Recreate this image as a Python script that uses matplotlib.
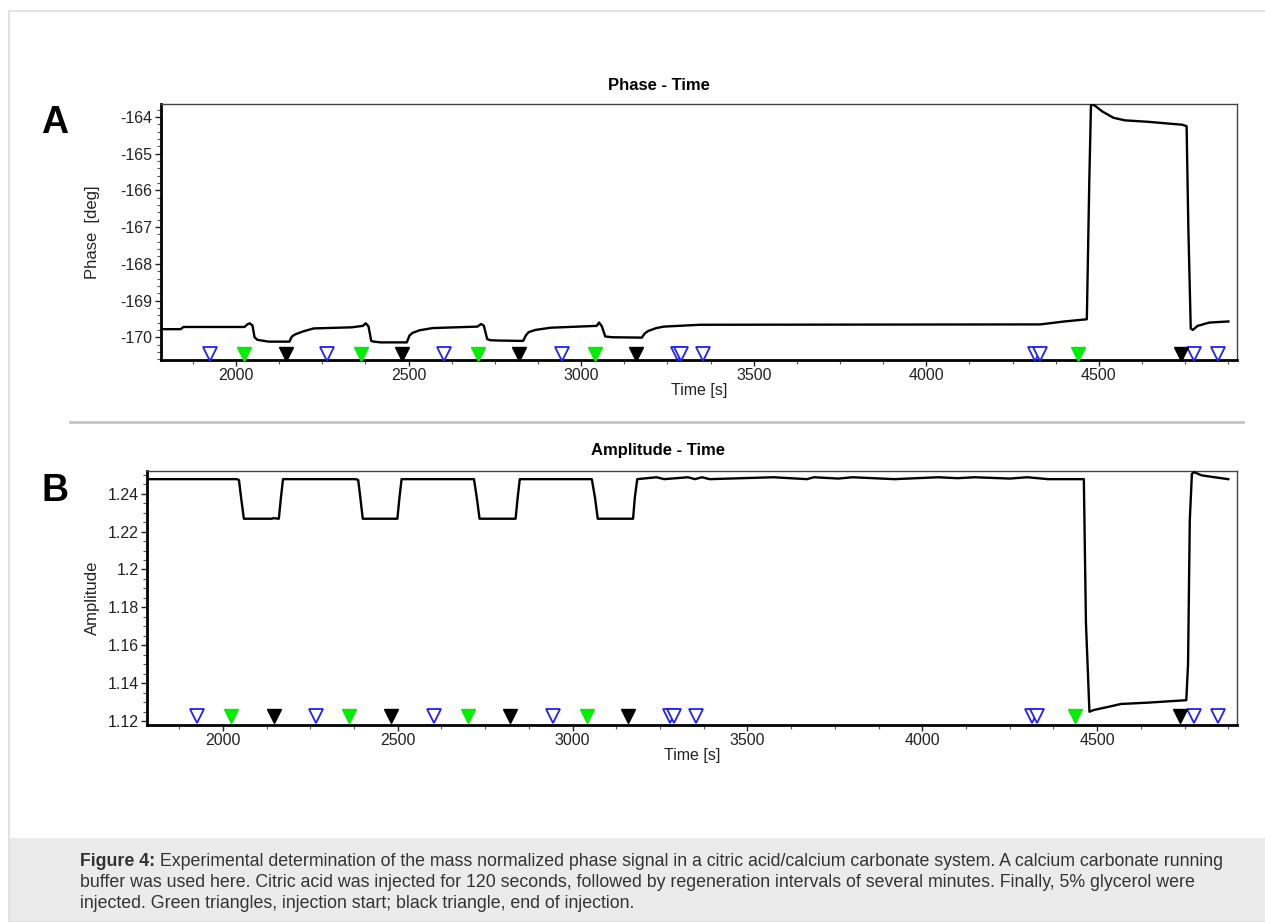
import matplotlib
matplotlib.use('Agg')
import matplotlib.pyplot as plt
from matplotlib.patches import Rectangle
from matplotlib.lines import Line2D
from matplotlib.ticker import MultipleLocator, FuncFormatter

plt.rcParams['font.family'] = ['Liberation Sans', 'DejaVu Sans']
plt.rcParams['axes.unicode_minus'] = False

# phase trace [s, deg]
phase_time = [1783, 1840, 1848, 2025, 2033, 2040, 2048, 2054, 2062, 2095,
              2155, 2162, 2172, 2195, 2225, 2335, 2368, 2376, 2384, 2392,
              2400, 2420, 2495, 2503, 2512, 2532, 2570, 2700, 2710, 2718,
              2728, 2736, 2760, 2832, 2840, 2848, 2868, 2912, 3045, 3052,
              3060, 3070, 3090, 3176, 3184, 3194, 3218, 3240, 3345, 4330,
              4400, 4465, 4472, 4477, 4487, 4510, 4542, 4575, 4642, 4742,
              4754, 4759, 4766, 4772, 4786, 4820, 4875]
phase_deg = [-169.78, -169.78, -169.72, -169.72, -169.65, -169.62, -169.68, -170.00, -170.07, -170.12,
             -170.12, -169.98, -169.92, -169.84, -169.76, -169.73, -169.69, -169.62, -169.70, -170.10,
             -170.12, -170.14, -170.14, -169.95, -169.88, -169.81, -169.75, -169.71, -169.64, -169.68,
             -170.05, -170.08, -170.09, -170.10, -169.95, -169.86, -169.80, -169.74, -169.69, -169.60,
             -169.70, -169.98, -170.00, -170.01, -169.90, -169.83, -169.75, -169.71, -169.66, -169.65,
             -169.57, -169.51, -165.80, -163.66, -163.68, -163.85, -164.02, -164.09, -164.13, -164.21,
             -164.25, -167.00, -169.76, -169.80, -169.69, -169.60, -169.57]

# amplitude trace [s, -]
amp_time = [1783, 2040, 2046, 2052, 2060, 2140, 2145, 2160, 2166, 2172,
            2380, 2387, 2393, 2400, 2499, 2505, 2511, 2718, 2726, 2734,
            2837, 2843, 2849, 3055, 3064, 3072, 3173, 3178, 3185, 3240,
            3262, 3330, 3350, 3370, 3392, 3575, 3670, 3690, 3760, 3800,
            3920, 4046, 4100, 4150, 4250, 4300, 4360, 4462, 4468, 4478,
            4490, 4535, 4568, 4645, 4755, 4760, 4765, 4771, 4777, 4799,
            4832, 4875]
amp_val = [1.2477, 1.2477, 1.2472, 1.2380, 1.2268, 1.2268, 1.2271, 1.2268, 1.2380, 1.2477,
           1.2477, 1.2472, 1.2380, 1.2268, 1.2268, 1.2380, 1.2477, 1.2477, 1.2380, 1.2268,
           1.2268, 1.2380, 1.2477, 1.2477, 1.2380, 1.2268, 1.2268, 1.2380, 1.2477, 1.2487,
           1.2477, 1.2487, 1.2477, 1.2487, 1.2477, 1.2487, 1.2477, 1.2487, 1.2480, 1.2487,
           1.2477, 1.2487, 1.2482, 1.2487, 1.2480, 1.2487, 1.2477, 1.2477, 1.1720, 1.1249,
           1.1258, 1.1276, 1.1290, 1.1297, 1.1310, 1.1500, 1.2260, 1.2505, 1.2514, 1.2497,
           1.2488, 1.2477]

# event markers [s]
marks_blue = [1925, 2265, 2603, 2945, 3280, 3290, 3353, 4314, 4328, 4776, 4846]
marks_green = [2022, 2362, 2702, 3040, 4438]
marks_black = [2145, 2481, 2821, 3158, 4737]

phase_ticks = [-170, -169, -168, -167, -166, -165, -164]
amp_ticks = [1.12, 1.14, 1.16, 1.18, 1.20, 1.22, 1.24]
time_ticks = [2000, 2500, 3000, 3500, 4000, 4500]

caption = [
    ' Experimental determination of the mass normalized phase signal in a citric acid/calcium carbonate system. A calcium carbonate running',
    'buffer was used here. Citric acid was injected for 120 seconds, followed by regeneration intervals of several minutes. Finally, 5% glycerol were',
    'injected. Green triangles, injection start; black triangle, end of injection.',
]

W, H = 1265, 922
fig = plt.figure(figsize=(W / 100, H / 100), dpi=100)


def px_box(left, top, right, bottom):
    return [left / W, 1 - bottom / H, (right - left) / W, (bottom - top) / H]


def style_axes(ax, ylim, yticks, yfmt, yminor):
    ax.set_xlim(1783, 4900)
    ax.set_ylim(*ylim)
    ax.set_xticks(time_ticks)
    ax.xaxis.set_minor_locator(MultipleLocator(125))
    ax.set_yticks(yticks)
    ax.yaxis.set_major_formatter(FuncFormatter(yfmt))
    ax.yaxis.set_minor_locator(MultipleLocator(yminor))
    for side in ('left', 'bottom'):
        ax.spines[side].set_linewidth(2.0)
        ax.spines[side].set_color('black')
    for side in ('top', 'right'):
        ax.spines[side].set_linewidth(1.0)
        ax.spines[side].set_color('#444444')
    ax.tick_params(which='major', length=4, width=1, pad=2, labelsize=11.5,
                   colors='#222222', direction='out')
    ax.tick_params(which='minor', length=3, width=0.8, colors='#555555', direction='out')


def draw_marks(ax, ypos):
    tr = ax.get_xaxis_transform()
    for t in marks_blue:
        ax.plot(t, ypos, marker='v', ms=10, mfc='white', mec='#1f1fff', mew=1.3,
                transform=tr, clip_on=False, zorder=4)
    for t in marks_green:
        ax.plot(t, ypos, marker='v', ms=10, mfc='#00ee00', mec='#00ee00', mew=1,
                transform=tr, clip_on=False, zorder=4)
    for t in marks_black:
        ax.plot(t, ypos, marker='v', ms=10, mfc='black', mec='black', mew=1,
                transform=tr, clip_on=False, zorder=4)


# panel A: phase
ax1 = fig.add_axes(px_box(161, 104, 1237, 360))
ax1.plot(phase_time, phase_deg, color='black', lw=1.7, zorder=3)
style_axes(ax1, (-170.62, -163.645), phase_ticks, lambda v, p: '%g' % v, 0.2)
draw_marks(ax1, 0.025)
ax1.set_xlabel('Time [s]', fontsize=11.5, labelpad=0, color='#222222')
fig.text(659 / W, 1 - 85 / H, 'Phase - Time', ha='center', va='center',
         fontsize=12, fontweight='bold')
fig.text(92 / W, 1 - 232 / H, 'Phase  [deg]', ha='center', va='center',
         rotation=90, fontsize=12, color='#222222')

# panel B: amplitude
ax2 = fig.add_axes(px_box(147, 471, 1237, 725))
ax2.plot(amp_time, amp_val, color='black', lw=1.7, zorder=3)
style_axes(ax2, (1.1179, 1.2520), amp_ticks, lambda v, p: '%g' % round(v, 2), 0.005)
draw_marks(ax2, 0.035)
ax2.set_xlabel('Time [s]', fontsize=11.5, labelpad=0, color='#222222')
fig.text(658 / W, 1 - 450 / H, 'Amplitude - Time', ha='center', va='center',
         fontsize=12, fontweight='bold')
fig.text(92 / W, 1 - 598 / H, 'Amplitude', ha='center', va='center',
         rotation=90, fontsize=12, color='#222222')

# panel letters
fig.text(55 / W, 1 - 123 / H, 'A', ha='center', va='center', fontsize=27, fontweight='bold')
fig.text(55 / W, 1 - 491 / H, 'B', ha='center', va='center', fontsize=27, fontweight='bold')

# separator and outer frame
fig.add_artist(Line2D([70 / W, 1243 / W], [1 - 422 / H] * 2, color='#c4c4c4', lw=2))
fig.add_artist(Rectangle((9 / W, 0), 1 - 9 / W + 0.01, 1 - 11 / H, transform=fig.transFigure,
                         fill=False, ec='#dddddd', lw=1.2))

# caption box
fig.add_artist(Rectangle((9 / W, 0), 1, 1 - 838 / H, transform=fig.transFigure,
                         fc='#ebebeb', ec='none', zorder=0))
cap_size = 12.8
cap_y = [861, 882, 903]
bold = fig.text(80 / W, 1 - cap_y[0] / H, 'Figure 4:', ha='left', va='center',
                fontsize=cap_size, fontweight='bold', color='#333333')
fig.canvas.draw()
bb = bold.get_window_extent()
fig.text(bb.x1 / W, 1 - cap_y[0] / H, caption[0], ha='left', va='center',
         fontsize=cap_size, color='#333333')
for line, y in zip(caption[1:], cap_y[1:]):
    fig.text(80 / W, 1 - y / H, line, ha='left', va='center', fontsize=cap_size, color='#333333')

fig.savefig('out.png', dpi=100)
